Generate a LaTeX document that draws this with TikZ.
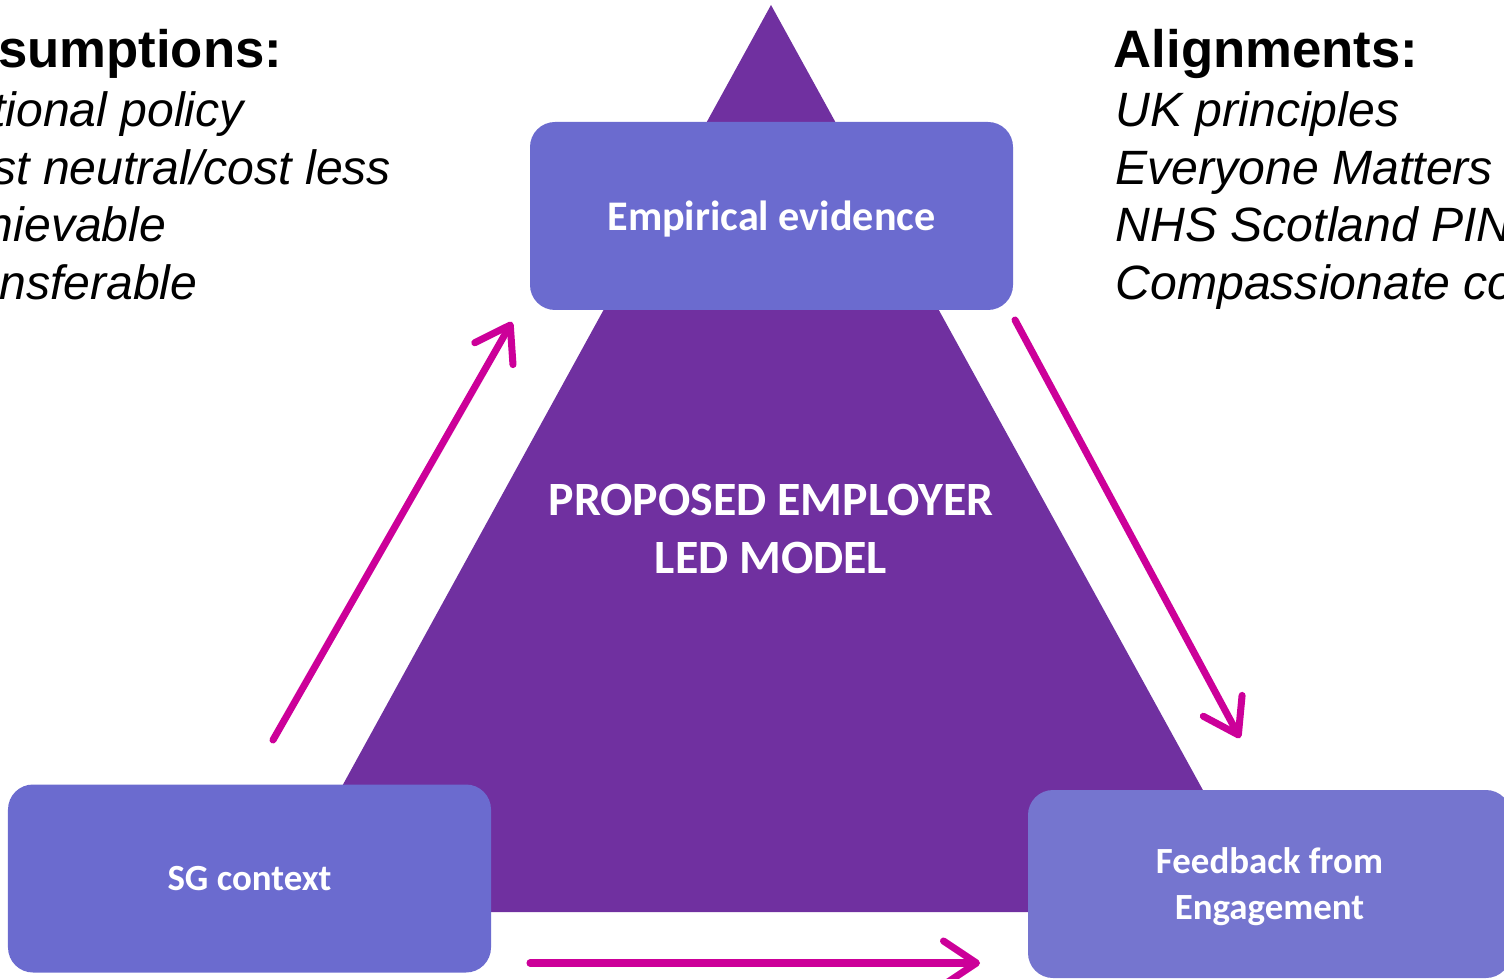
\documentclass[tikz,border=0pt]{standalone}
\usepackage{fontspec}
\setmainfont{Liberation Sans}
\newfontfamily\calib{Carlito}
\usetikzlibrary{arrows.meta}

\definecolor{tripurple}{HTML}{7030A0}
\definecolor{boxblue}{HTML}{6B6BCF}
\definecolor{boxblue2}{HTML}{7575CF}
\definecolor{flowpink}{HTML}{CC0099}

\tikzset{
	stagebox/.style={fill=boxblue, rounded corners=0.25cm, minimum width=4.83cm, minimum height=1.88cm, text depth=0pt, text=white, font=\calib\bfseries\fontsize{12}{14}\selectfont, align=center},
	flow/.style={draw=flowpink, line width=2pt, line cap=round, line join=round, -{Straight Barb[length=3.3mm, width=4.4mm, round]}},
	headtxt/.style={anchor=base west, inner sep=0pt, font=\bfseries\fontsize{15}{18}\selectfont},
	itemtxt/.style={anchor=base west, inner sep=0pt, font=\itshape\fontsize{13.7}{16.5}\selectfont}
}

\begin{document}
\begin{tikzpicture}
	\useasboundingbox (0,0) rectangle (15.04,9.78);
	\clip (0,0) rectangle (15.04,9.78);
	
	% the big triangle behind everything
	\coordinate (top) at (7.71,9.73);
	\coordinate (bl) at (2.73,0.66);
	\coordinate (br) at (12.70,0.66);
	\fill[tripurple] (top) -- (br) -- (bl) -- cycle;
	
	\node[text=white, font=\calib\bfseries\fontsize{13.6}{16.5}\selectfont, align=center] (model) at (7.71,4.49) {PROPOSED EMPLOYER\\LED MODEL};
	
	% the three corner boxes
	\node[stagebox] (emp) at (7.715,7.62) {Empirical evidence};
	\node[stagebox, font=\calib\bfseries\fontsize{10.5}{13}\selectfont] (sg) at (2.495,0.995) {SG context};
	\node[stagebox, fill=boxblue2, font=\calib\bfseries\fontsize{10.5}{13.1}\selectfont] (fb) at (12.695,0.94) {Feedback from\\Engagement};
	
	% text columns
	\node[headtxt] (ass) at (-0.70,9.10) {Assumptions:};
	\node[itemtxt] (ass1) at (-0.70,8.51) {National policy};
	\node[itemtxt] (ass2) at (-0.70,7.93) {Cost neutral/cost less};
	\node[itemtxt] (ass3) at (-0.70,7.36) {Achievable};
	\node[itemtxt] (ass4) at (-0.70,6.78) {Transferable};
	
	\node[headtxt] (ali) at (11.13,9.10) {Alignments:};
	\node[itemtxt] (ali1) at (11.15,8.51) {UK principles};
	\node[itemtxt] (ali2) at (11.15,7.93) {Everyone Matters};
	\node[itemtxt] (ali3) at (11.15,7.36) {NHS Scotland PIN Policies};
	\node[itemtxt] (ali4) at (11.15,6.78) {Compassionate connections};
	
	% arrow ends
	\coordinate (sgOut) at (2.73,2.38);
	\coordinate (empIn) at (5.12,6.56);
	\coordinate (empOut) at (10.15,6.58);
	\coordinate (fbIn) at (12.40,2.40);
	\coordinate (botOut) at (5.30,0.15);
	\coordinate (botIn) at (9.80,0.15);
	
	\draw[flow] (sgOut) -- (empIn);
	\draw[flow] (empOut) -- (fbIn);
	\draw[flow] (botOut) -- (botIn);
\end{tikzpicture}
\end{document}
